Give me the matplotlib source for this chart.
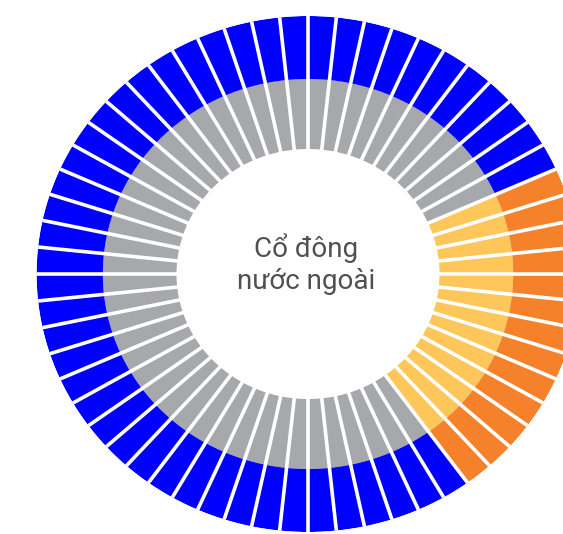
import numpy as np
import matplotlib
matplotlib.use("Agg")
import matplotlib.pyplot as plt

# Segment groups going clockwise from 12 o'clock (60 segments of 6 degrees)
group_names = ["Khác", "Cổ đông nước ngoài", "Khác"]
group_segments = [11, 13, 36]
inner_colors = ["#A7A8AC", "#FFC659", "#A7A8AC"]
outer_colors = ["#0000FF", "#F5822A", "#0000FF"]
center_label = "Cổ đông\nnước ngoài"

# ring radii (pixels, vertical)
r_hole = 125
r_split = 195
r_outer = 258

n_total = sum(group_segments)
step = 2 * np.pi / n_total
theta = np.arange(n_total) * step + step / 2

seg_inner = []
seg_outer = []
for count, ci, co in zip(group_segments, inner_colors, outer_colors):
    seg_inner += [ci] * count
    seg_outer += [co] * count

W, H = 563, 534
fig = plt.figure(figsize=(W / 100, H / 100), dpi=100)

cx, cy = 308, 274          # centre in pixels (from top-left)
rx = r_outer * 1.052       # chart is slightly wider than tall
ax = fig.add_axes([(cx - rx) / W, (H - cy - r_outer) / H, 2 * rx / W, 2 * r_outer / H],
                  projection="polar")
ax.set_aspect("auto")
ax.set_theta_zero_location("N")
ax.set_theta_direction(-1)

ax.bar(theta, r_split - r_hole, width=step, bottom=r_hole, color=seg_inner, linewidth=0)
ax.bar(theta, r_outer - r_split, width=step, bottom=r_split, color=seg_outer, linewidth=0)

# white separators between segments
edges = np.arange(n_total) * step
ax.vlines(edges, r_hole - 2, r_outer + 2, colors="white", linewidth=2.6)

ax.set_ylim(0, r_outer)
ax.set_axis_off()

fig.text(306 / W, 1 - 264 / H, center_label, ha="center", va="center",
         multialignment="center", fontsize=20, color="#505050",
         family=["Roboto", "DejaVu Sans"])

fig.savefig("out.png", dpi=100, facecolor="white")
